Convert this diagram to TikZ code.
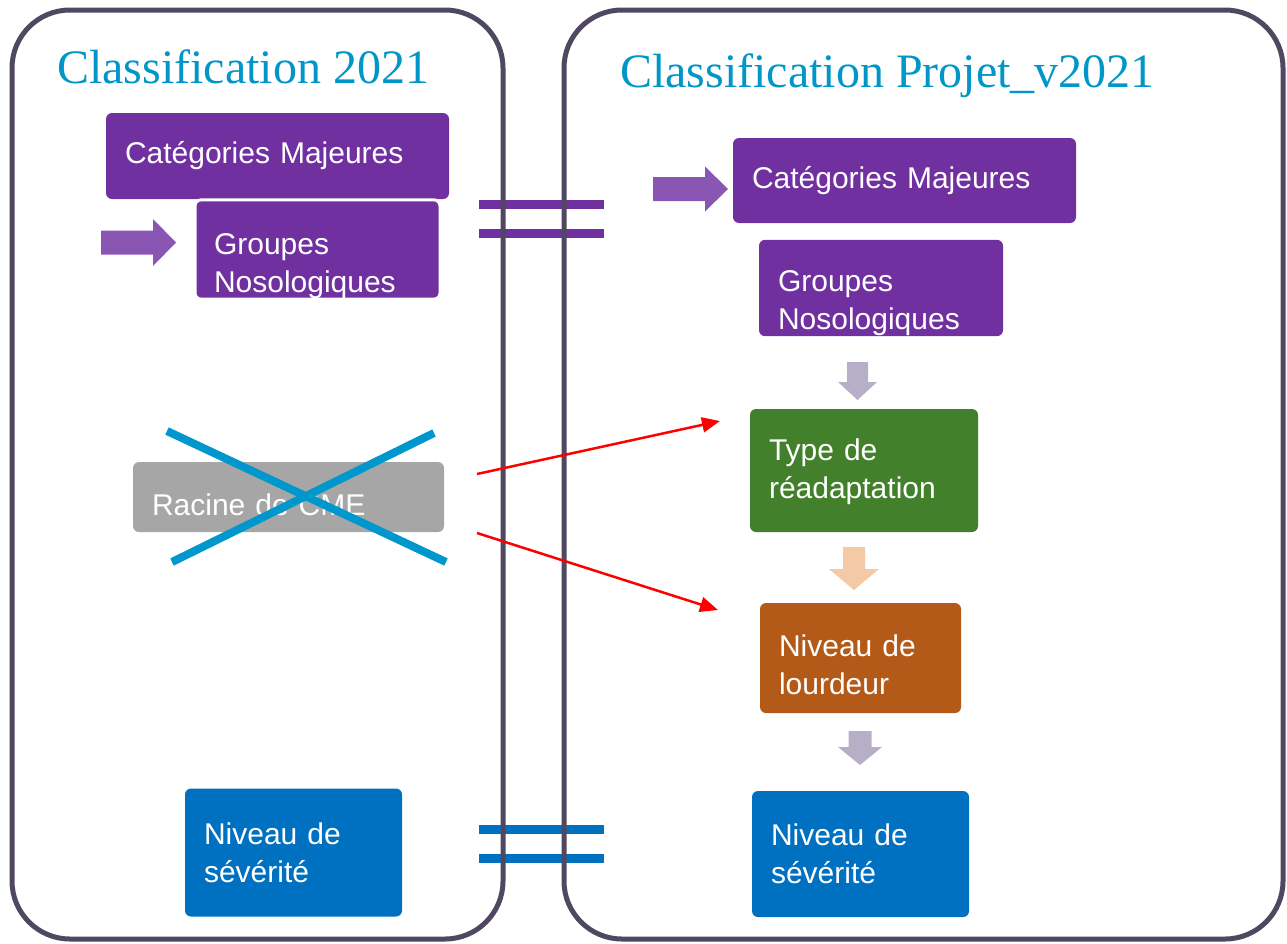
\documentclass[tikz,border=0pt]{standalone}
\usepackage{fontspec}
\setmainfont{Liberation Serif}
\setsansfont{Liberation Sans}
\usepackage{tikz}
\usetikzlibrary{positioning}
\usetikzlibrary{arrows.meta}

\definecolor{panelgrey}{RGB}{80,71,96}
\definecolor{titleblue}{RGB}{0,150,200}
\definecolor{majpurple}{RGB}{112,48,160}
\definecolor{arrowpurple}{RGB}{138,86,180}
\definecolor{cmegrey}{RGB}{166,166,166}
\definecolor{typegreen}{RGB}{66,128,43}
\definecolor{lourdorange}{RGB}{180,90,24}
\definecolor{sevblue}{RGB}{0,112,192}
\definecolor{crossblue}{RGB}{0,152,204}
\definecolor{downgrey}{RGB}{183,175,199}
\definecolor{downpeach}{RGB}{243,201,166}

\tikzstyle{panel}=[draw=panelgrey, line width=5pt, rounded corners=58pt]
\tikzstyle{title}=[text=titleblue, font={\rmfamily\fontsize{48}{50}\selectfont}, anchor=base west, inner sep=0pt]
\tikzstyle{box}=[rounded corners=6pt, text=white, align=left, inner xsep=19pt, inner ysep=0pt, font={\sffamily\fontsize{30}{38}\selectfont\spaceskip=15pt\relax}]
\tikzstyle{eqbar}=[line width=9pt]
\tikzstyle{cross}=[crossblue, line width=8pt]
\tikzstyle{redarrow}=[draw=red, line width=2.5pt, -{Triangle[length=18pt,width=15pt]}]

\begin{document}
\begin{tikzpicture}[x=1pt, y=-1pt]

\useasboundingbox (0,0) rectangle (1287,943);

% equal signs between the two panels
\foreach \y in {204,233}
    \draw[eqbar, majpurple] (479,\y) -- (604,\y);
\foreach \y in {829,858.5}
    \draw[eqbar, sevblue] (479,\y) -- (604,\y);

% panels
\draw[panel] (12,10) rectangle (503,939);
\draw[panel] (564,10) rectangle (1283,939);

\node[title] (titleL) at (57,83) {Classification 2021};
\node[title] (titleR) at (620,87) {Classification Projet\_v2021};

%left column
\node[box, fill=majpurple, text width=305pt, minimum height=86pt] (cmL) at (277.5,156) {Catégories Majeures};
\node[box, fill=majpurple, draw=white, line width=3pt, text width=207pt, minimum height=95pt] (gnL) at (317.5,249.5) {\rule{0pt}{55pt}Groupes\\Nosologiques};
\node[box, fill=cmegrey, text width=273pt, minimum height=70pt] (cme) at (288.5,497) {\rule{0pt}{38pt}Racine de CME};
\node[box, fill=sevblue, text width=179pt, minimum height=128pt] (sevL) at (293.5,852.5) {Niveau de\\sévérité};

%right column
\node[box, fill=majpurple, text width=305pt, minimum height=85pt] (cmR) at (904.5,180.5) {Catégories Majeures};
\node[box, fill=majpurple, text width=206pt, minimum height=96pt] (gnR) at (881,288) {\rule{0pt}{52pt}Groupes\\Nosologiques};
\node[box, fill=typegreen, text width=190pt, minimum height=123pt] (type) at (864,470.5) {\rule{0pt}{25pt}Type de\\réadaptation};
\node[box, fill=lourdorange, text width=163pt, minimum height=110pt] (lourd) at (860.5,658) {\rule{0pt}{36pt}Niveau de\\lourdeur};
\node[box, fill=sevblue, text width=179pt, minimum height=126pt] (sevR) at (860.5,854) {Niveau de\\sévérité};

% block arrows pointing right
\foreach \x/\y/\len/\hd/\sw/\hw in {101/242.5/75/23/12/23.5, 653/189/75/23/12/22.5}
    \fill[arrowpurple] (\x,\y-\sw) -- (\x+\len-\hd,\y-\sw) -- (\x+\len-\hd,\y-\hw) -- (\x+\len,\y)
        -- (\x+\len-\hd,\y+\hw) -- (\x+\len-\hd,\y+\sw) -- (\x,\y+\sw) -- cycle;

% block arrows pointing down
\foreach \x/\y/\len/\hd/\sw/\hw/\col in {857.5/362/38/18/10.5/19.5/downgrey, 854/547/43/21/11/25/downpeach, 860/731/34/18/11.5/22/downgrey}
    \fill[\col] (\x-\sw,\y) -- (\x+\sw,\y) -- (\x+\sw,\y+\len-\hd) -- (\x+\hw,\y+\len-\hd) -- (\x,\y+\len)
        -- (\x-\hw,\y+\len-\hd) -- (\x-\sw,\y+\len-\hd) -- cycle;

% crossed out
\draw[cross] (167,431) -- (446,562);
\draw[cross] (172,562) -- (434,433);

% red arrows
\coordinate (cmeA) at (477,474);
\coordinate (cmeB) at (477,533);
\coordinate (typeIn) at (720,421);
\coordinate (lourdIn) at (718,610);
\draw[redarrow] (cmeA) -- (typeIn);
\draw[redarrow] (cmeB) -- (lourdIn);

\end{tikzpicture}
\end{document}
